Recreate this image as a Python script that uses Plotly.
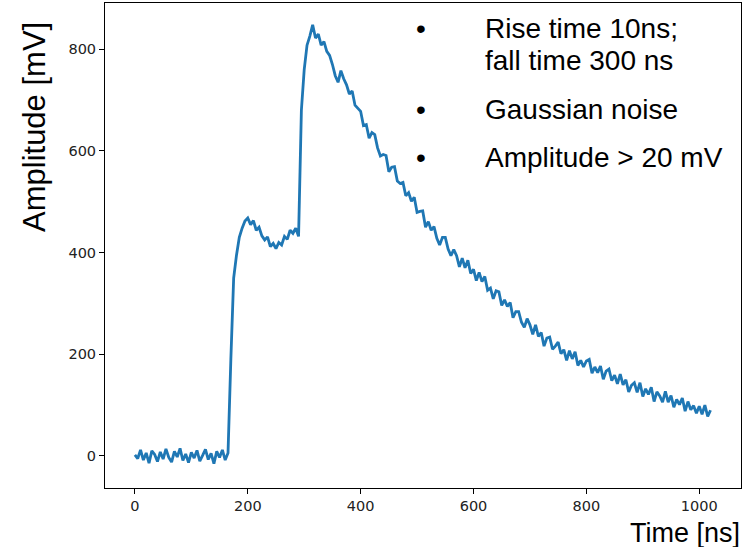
import plotly.graph_objects as go

# Time axis (ns), sampled every 5 ns
time_ns = list(range(0, 1025, 5))

# Amplitude (mV)
amplitude_mv = [
    # 0-45
    2, -5, 12, -8, 6, -14, 10, 3, -11, 8,
    # 50-95
    -6, 14, -3, -12, 9, -2, 15, -9, 4, -13,
    # 100-145
    7, -4, 11, -10, 1, 13, -7, 5, -15, 9,
    # 150-195
    -3, 12, -8, 6, 190, 350, 395, 430, 448, 462,
    # 200-245
    468, 455, 463, 444, 450, 433, 425, 431, 412, 418,
    # 250-295
    408, 420, 415, 432, 426, 444, 438, 448, 432, 680,
    # 300-345
    760, 808, 826, 848, 822, 830, 808, 815, 796, 788,
    # 350-395
    770, 748, 735, 758, 742, 730, 712, 718, 690, 684,
    # 400-445
    678, 650, 652, 625, 636, 632, 606, 590, 593, 591,
    # 450-495
    559, 568, 569, 541, 536, 538, 512, 518, 501, 509,
    # 500-545
    479, 481, 482, 450, 461, 444, 451, 428, 415, 430,
    # 550-595
    430, 407, 394, 406, 394, 372, 389, 370, 385, 359,
    # 600-645
    367, 345, 361, 343, 353, 326, 330, 309, 325, 323,
    # 650-695
    296, 307, 294, 302, 272, 284, 284, 263, 253, 270,
    # 700-745
    258, 239, 258, 235, 243, 216, 232, 234, 210, 216,
    # 750-795
    224, 201, 209, 188, 207, 191, 205, 178, 188, 175,
    # 800-845
    187, 190, 163, 175, 164, 177, 151, 167, 171, 148,
    # 850-895
    159, 142, 161, 140, 150, 126, 139, 144, 125, 144,
    # 900-945
    117, 132, 121, 135, 107, 126, 118, 106, 127, 106,
    # 950-995
    119, 96, 111, 101, 114, 88, 107, 91, 99, 84,
    # 1000-1020
    98, 82, 100, 78, 90,
]

x_ticks = [0, 200, 400, 600, 800, 1000]
y_ticks = [0, 200, 400, 600, 800]

bullets = ["Rise time 10ns;", "fall time 300 ns", "Gaussian noise", "Amplitude > 20 mV"]
bullet_marks = [True, False, True, True]

W, H = 744, 547
L, R, T, B = 105, 3, 3, 59
pw = W - L - R
ph = H - T - B


def px(xp):
    return (xp - L) / pw


def py(yp):
    return (H - B - yp) / ph


fig = go.Figure()
fig.add_trace(go.Scatter(
    x=time_ns, y=amplitude_mv, mode="lines",
    line=dict(color="#1f77b4", width=2.8),
    showlegend=False,
))

axis_common = dict(
    showline=True, mirror=True, linecolor="black", linewidth=1,
    ticks="outside", ticklen=5, tickwidth=1, tickcolor="black",
    showgrid=False, zeroline=False,
    tickfont=dict(family="DejaVu Sans", size=14.5, color="#222222"),
)

fig.update_xaxes(range=[-53, 1074], tickvals=x_ticks, **axis_common)
fig.update_yaxes(range=[-63, 891], tickvals=y_ticks, **axis_common)

annotations = []
text_font = dict(family="Liberation Sans", size=28, color="black")
bullet_y = [28, 60, 109, 157]
for txt, mark, yp in zip(bullets, bullet_marks, bullet_y):
    annotations.append(dict(
        x=px(483), y=py(yp), xref="paper", yref="paper",
        xanchor="left", yanchor="middle", text=txt,
        showarrow=False, font=text_font,
    ))
    if mark:
        annotations.append(dict(
            x=px(421), y=py(yp), xref="paper", yref="paper",
            xanchor="center", yanchor="middle", text="•",
            showarrow=False, font=text_font,
        ))

annotations.append(dict(
    x=px(35), y=py(127), xref="paper", yref="paper",
    xanchor="center", yanchor="middle", text="Amplitude [mV]",
    textangle=-90, showarrow=False,
    font=dict(family="Liberation Sans", size=31, color="black"),
))
annotations.append(dict(
    x=px(741), y=py(549), xref="paper", yref="paper",
    xanchor="right", yanchor="bottom", text="Time [ns]",
    showarrow=False, borderpad=0,
    font=dict(family="Liberation Sans", size=27, color="black"),
))

fig.update_layout(
    width=W, height=H,
    margin=dict(l=L, r=R, t=T, b=B),
    paper_bgcolor="white", plot_bgcolor="white",
    annotations=annotations,
)

fig.write_html("out.html")
